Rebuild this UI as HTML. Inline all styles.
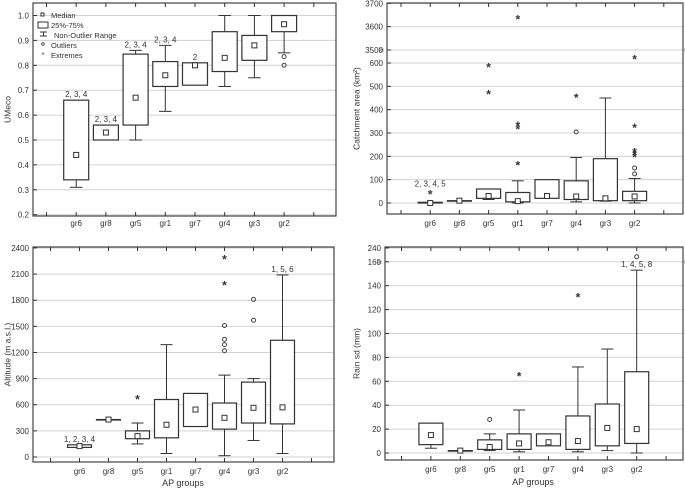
<!DOCTYPE html>
<html><head><meta charset="utf-8"><style>
html,body{margin:0;padding:0;background:#fff;}
svg{display:block;font-family:"Liberation Sans",sans-serif;}
</style></head><body>
<svg id="fig" width="685" height="489" viewBox="0 0 685 489"></svg>
<script>
const categories = ["gr6","gr8","gr5","gr1","gr7","gr4","gr3","gr2"];
// Panel A: UMeco
const aQ1 = [0.34,0.50,0.56,0.715,0.72,0.775,0.82,0.935];
const aQ3 = [0.66,0.56,0.845,0.815,0.81,0.935,0.92,1.0];
const aMed = [0.44,0.53,0.67,0.76,0.80,0.83,0.88,0.965];
const aLo = [0.31,null,0.50,0.615,null,0.715,0.75,0.85];
const aHi = [null,null,0.86,0.88,null,1.0,1.0,null];
const aOut = [[],[],[],[],[],[],[],[0.835,0.80]];
const aExt = [[],[],[],[],[],[],[],[]];
const aLabels = ["2, 3, 4","2, 3, 4","2, 3, 4","2, 3, 4","2","","",""];
const aTicks = [0.2,0.3,0.4,0.5,0.6,0.7,0.8,0.9,1.0];
const aTickText = ["0.2","0.3","0.4","0.5","0.6","0.7","0.8","0.9","1.0"];
// Panel B: Catchment area
const bQ1 = [0,10,20,5,20,15,10,10];
const bQ3 = [3,10,60,45,100,95,190,50];
const bMed = [0,10,30,8,30,28,20,28];
const bLo = [null,null,15,0,null,5,8,0];
const bHi = [null,null,null,95,null,195,450,105];
const bOut = [[],[],[],[],[],[305],[],[125,150]];
const bExt = [[40],[],[470,585],[165,320,335,3635],[],[455],[],[200,210,220,325,620]];
const bLabels = ["2, 3, 4, 5","","","","","","",""];
const bTicks = [0,100,200,300,400,500,600,3500,3600,3700];
const bTickText = ["0","100","200","300","400","500","600","3500","3600","3700"];
// Panel C: Altitude
const cQ1 = [110,430,210,220,350,320,390,380];
const cQ3 = [140,430,300,660,730,620,860,1340];
const cMed = [125,430,240,370,545,450,565,570];
const cLo = [null,null,150,40,null,15,190,40];
const cHi = [null,null,390,1290,null,940,900,2090];
const cOut = [[],[],[],[],[],[1220,1290,1350,1510],[1570,1810],[]];
const cExt = [[],[],[670],[],[],[1980,2280],[],[]];
const cLabels = ["1, 2, 3, 4","","","","","","","1, 5, 6"];
const cTicks = [0,300,600,900,1200,1500,1800,2100,2400];
const cTickText = ["0","300","600","900","1200","1500","1800","2100","2400"];
// Panel D: Rain sd
const dQ1 = [7,2,3,3,6,3,6,8];
const dQ3 = [25,2,11,16,16,31,41,68];
const dMed = [15,2,5,8,9,10,21,20];
const dLo = [4,null,2,1,null,1,2,0];
const dHi = [null,null,16,36,null,72,87,153];
const dOut = [[],[],[28],[],[],[],[],[190]];
const dExt = [[],[],[],[65],[],[131],[],[]];
const dLabels = ["","","","","","","","1, 4, 5, 8"];
const dTicks = [0,20,40,60,80,100,120,140,160,240];
const dTickText = ["0","20","40","60","80","100","120","140","160","240"];

const NS="http://www.w3.org/2000/svg";
const svg=document.getElementById('fig');
function mk(tag,attrs,parent,name,text){
  const e=document.createElementNS(NS,tag);
  for(const k in attrs)e.setAttribute(k,attrs[k]);
  
  
  if(text!==undefined)e.textContent=text;
  (parent||svg).appendChild(e);return e;
}
const panels=[
 {id:'umeco',x0:33,x1:336,y0:3,y1:216,slot0:46.5,dx:29.7,bw:25,lo_off:10,
  y:v=>214.7-(v-0.2)*249,q1:aQ1,q3:aQ3,med:aMed,lo:aLo,hi:aHi,out:aOut,ext:aExt,lab:aLabels,ticks:aTicks,tt:aTickText,
  title:'UMeco',tx:8,xt:null},
 {id:'catchment',x0:387,x1:683,y0:3,y1:214,slot0:401,dx:29.2,bw:24,lo_off:12,
  y:v=>v>=3500?50-(v-3500)*0.2333:203-v*0.2333,q1:bQ1,q3:bQ3,med:bMed,lo:bLo,hi:bHi,out:bOut,ext:bExt,lab:bLabels,ticks:bTicks,tt:bTickText,
  title:'Catchment area (km²)',tx:357,xt:null,brk:50},
 {id:'altitude',x0:33,x1:334,y0:247,y1:462,slot0:50.5,dx:29,bw:24,lo_off:12,
  y:v=>457-v*0.0871,q1:cQ1,q3:cQ3,med:cMed,lo:cLo,hi:cHi,out:cOut,ext:cExt,lab:cLabels,ticks:cTicks,tt:cTickText,
  title:'Altitude (m a.s.l.)',tx:8,xt:[183,486]},
 {id:'rain',x0:385,x1:683,y0:247,y1:460,slot0:401.5,dx:29.4,bw:24,lo_off:12,
  y:v=>v>160?262-(v-160)*0.175:453-v*1.195,q1:dQ1,q3:dQ3,med:dMed,lo:dLo,hi:dHi,out:dOut,ext:dExt,lab:dLabels,ticks:dTicks,tt:dTickText,
  title:'Rain sd (mm)',tx:357,xt:[533,485],brk:262}
];
panels.forEach(p=>{
  const g=mk('g',{},svg,p.id+'-panel');
  p.ticks.forEach((t,i)=>{
    const yy=p.y(t);
    mk('line',{x1:p.x0,x2:p.x1,y1:yy,y2:yy,stroke:'#d2d2d2','stroke-width':1},g,'gridline');
    mk('line',{x1:p.x0,x2:p.x0+4,y1:yy,y2:yy,stroke:'#333'},g,'y-tick');
    mk('text',{x:p.x0-4,y:yy+3,'text-anchor':'end','font-size':8,fill:'#333'},g,'y-tick-label',p.tt[i]);
  });
  mk('rect',{x:p.x0,y:p.y0,width:p.x1-p.x0,height:p.y1-p.y0,fill:'none',stroke:'#444','stroke-width':1.2},g,'plot-frame');
  if(p.brk){
    mk('text',{x:p.x0-3,y:p.brk+3,'text-anchor':'end','font-size':9,fill:'#444'},g,'axis-break-left','≈');
    mk('text',{x:p.x1+1,y:p.brk+3,'font-size':9,fill:'#444'},g,'axis-break-right','≈');
  }
  for(let s=0;s<10;s++){
    const xx=p.slot0+s*p.dx;
    mk('line',{x1:xx,x2:xx,y1:p.y1,y2:p.y1-4,stroke:'#333'},g,'x-tick');
    mk('line',{x1:xx,x2:xx,y1:p.y0,y2:p.y0+4,stroke:'#333'},g,'x-tick-top');
  }
  categories.forEach((c,i)=>{
    const cx=p.slot0+(i+1)*p.dx, h=p.bw/2;
    mk('text',{x:cx,y:p.y1+p.lo_off,'text-anchor':'middle','font-size':8,fill:'#333'},g,'x-label-'+c,c);
    const yq1=p.y(p.q1[i]),yq3=p.y(p.q3[i]);
    if(p.lo[i]!==null){
      const yl=p.y(p.lo[i]);
      mk('line',{x1:cx,x2:cx,y1:yq1,y2:yl,stroke:'#333'},g,'whisker-low-'+c);
      mk('line',{x1:cx-h/2,x2:cx+h/2,y1:yl,y2:yl,stroke:'#333'},g,'whisker-cap-low-'+c);
    }
    if(p.hi[i]!==null){
      const yh=p.y(p.hi[i]);
      mk('line',{x1:cx,x2:cx,y1:yq3,y2:yh,stroke:'#333'},g,'whisker-high-'+c);
      mk('line',{x1:cx-h/2,x2:cx+h/2,y1:yh,y2:yh,stroke:'#333'},g,'whisker-cap-high-'+c);
    }
    mk('rect',{x:cx-h,y:yq3,width:p.bw,height:Math.max(yq1-yq3,0.5),fill:'#fff',stroke:'#333','stroke-width':1.2},g,'box-'+c);
    const ym=p.y(p.med[i]);
    mk('rect',{x:cx-2.5,y:ym-2.5,width:5,height:5,fill:'#fff',stroke:'#333','stroke-width':1},g,'median-'+c);
    p.out[i].forEach(v=>mk('circle',{cx:cx,cy:p.y(v),r:2,fill:'none',stroke:'#444'},g,'outlier-'+c));
    p.ext[i].forEach(v=>mk('text',{x:cx,y:p.y(v)+5,'text-anchor':'middle','font-size':12,'font-weight':'bold',fill:'#333'},g,'extreme-'+c,'*'));
    if(p.lab[i]){
      let top=Math.min(yq3,p.hi[i]!==null?p.y(p.hi[i]):yq3);
      p.ext[i].forEach(v=>{top=Math.min(top,p.y(v)-4);});
      mk('text',{x:cx,y:top-3,'text-anchor':'middle','font-size':8,fill:'#333'},g,'significance-label-'+c,p.lab[i]);
    }
  });
  const cy=(p.y0+p.y1)/2;
  mk('text',{x:p.tx,y:cy,transform:`rotate(-90 ${p.tx} ${cy})`,'text-anchor':'middle','font-size':8.5,fill:'#333','dominant-baseline':'middle'},g,'y-axis-title',p.title);
  if(p.xt) mk('text',{x:p.xt[0],y:p.xt[1],'text-anchor':'middle','font-size':9,fill:'#333'},g,'x-axis-title','AP groups');
});
// legend
const lg=mk('g',{},svg,'legend');
mk('rect',{x:41,y:13,width:3,height:3,fill:'#fff',stroke:'#333'},lg,'legend-median-icon');
mk('text',{x:51,y:18,'font-size':7.5,fill:'#333'},lg,'legend-median','Median');
mk('rect',{x:38,y:22,width:10,height:6,fill:'#fff',stroke:'#333'},lg,'legend-box-icon');
mk('text',{x:51,y:28,'font-size':7.5,fill:'#333'},lg,'legend-box','25%-75%');
mk('path',{d:'M40 32H47M43.5 32V36M40 36H47',stroke:'#333',fill:'none'},lg,'legend-whisker-icon');
mk('text',{x:54,y:38,'font-size':7.5,fill:'#333'},lg,'legend-range','Non-Outlier Range');
mk('circle',{cx:43,cy:44,r:1.3,fill:'none',stroke:'#555'},lg,'legend-outlier-icon');
mk('text',{x:51,y:48,'font-size':7.5,fill:'#333'},lg,'legend-outliers','Outliers');
mk('text',{x:43,y:58,'text-anchor':'middle','font-size':8,fill:'#555'},lg,'legend-extreme-icon','*');
mk('text',{x:51,y:58,'font-size':7.5,fill:'#333'},lg,'legend-extremes','Extremes');
</script>
</body></html>
